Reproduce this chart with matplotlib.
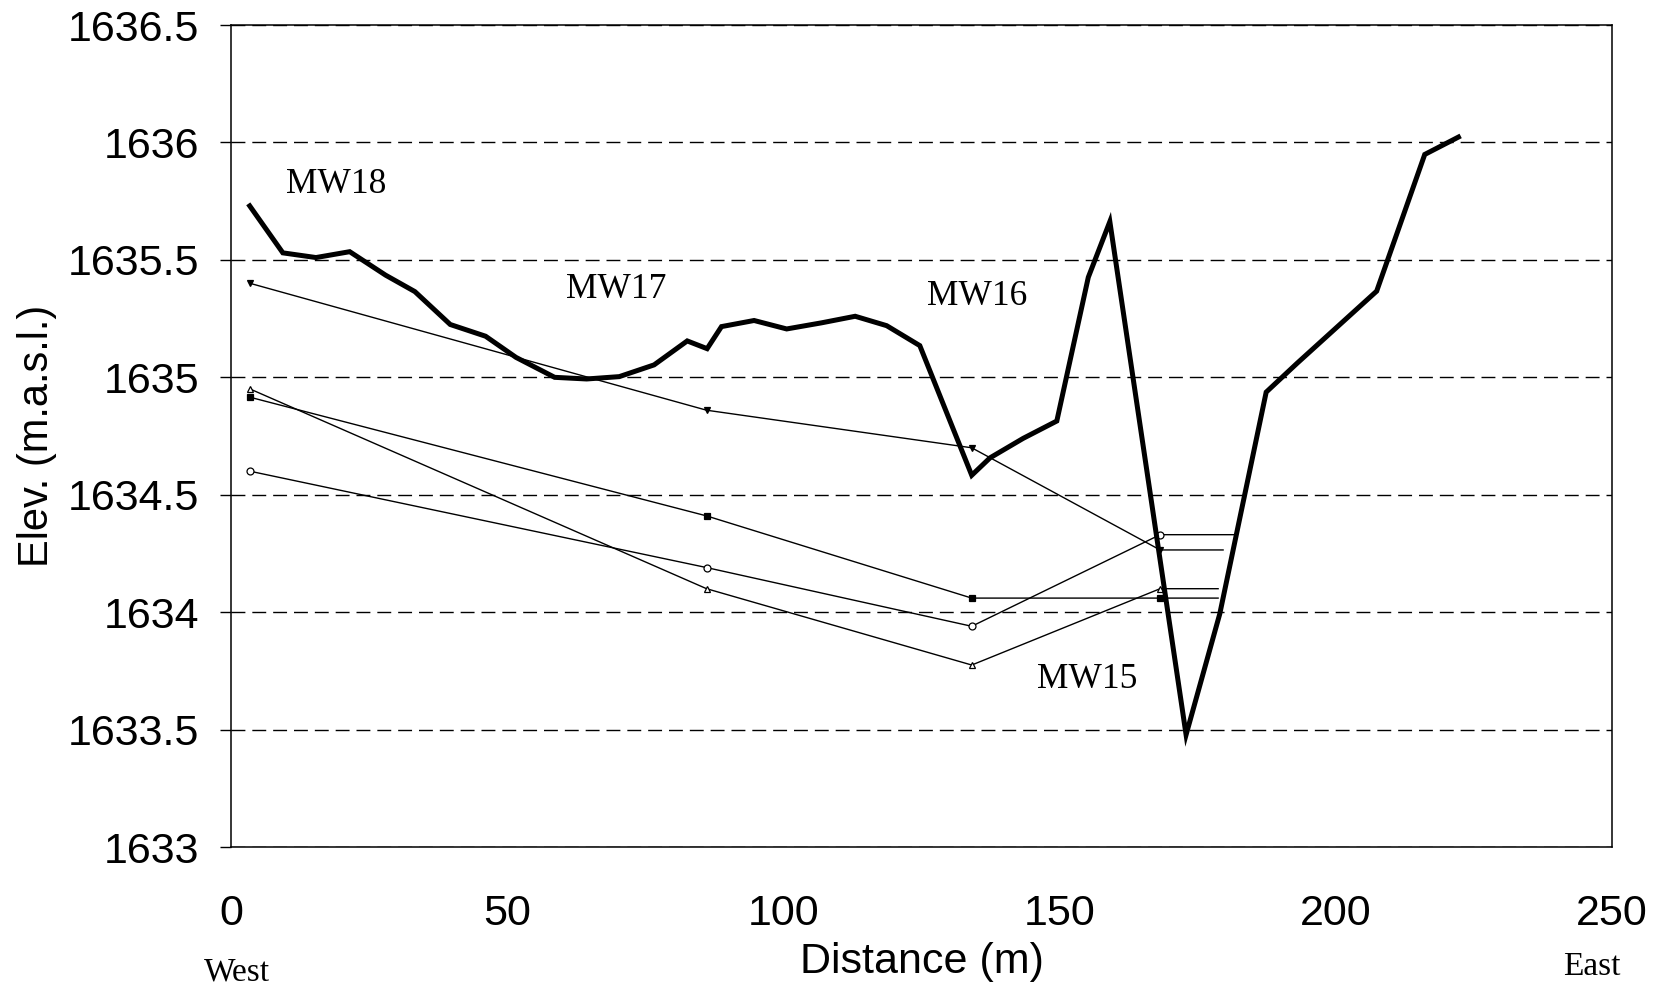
import matplotlib
matplotlib.use('Agg')
import matplotlib.pyplot as plt
from matplotlib.ticker import FuncFormatter

# ground surface profile (thick line), distance in m / elevation in m.a.s.l.
terrainX = [3.4, 9.4, 15.4, 21.5, 28.0, 33.3, 39.7, 46.1, 51.6, 58.6, 64.4, 70.3,
            76.6, 82.6, 86.2, 88.8, 94.7, 100.6, 106.9, 113.0, 118.7, 124.7,
            134.1, 137.4, 143.4, 149.5, 155.2, 159.1, 172.9, 179.0, 187.4, 193.0,
            207.4, 216.1, 222.2]
terrainY = [1635.73, 1635.53, 1635.51, 1635.535, 1635.435, 1635.365, 1635.225,
            1635.175, 1635.085, 1635.0, 1634.993, 1635.003, 1635.053, 1635.155,
            1635.122, 1635.216, 1635.242, 1635.206, 1635.232, 1635.26, 1635.22,
            1635.135, 1634.583, 1634.657, 1634.74, 1634.814, 1635.426, 1635.663,
            1633.478, 1633.993, 1634.937, 1635.06, 1635.367, 1635.949, 1636.023]

# water levels at the wells (thin lines), last point carries the level on
downX = [3.5, 86.1, 134.1, 168.2, 179.6]
downY = [1635.40, 1634.86, 1634.70, 1634.265, 1634.265]
squareX = [3.5, 86.1, 134.1, 168.2, 178.7]
squareY = [1634.915, 1634.41, 1634.06, 1634.06, 1634.06]
circleX = [3.5, 86.1, 134.1, 168.2, 181.8]
circleY = [1634.60, 1634.19, 1633.94, 1634.33, 1634.33]
triX = [3.5, 86.1, 134.1, 168.2, 178.7]
triY = [1634.95, 1634.10, 1633.775, 1634.10, 1634.10]

# well names and where they are written
wellNames = ['MW18', 'MW17', 'MW16', 'MW15']
wellNameX = [19.1, 69.8, 135.0, 155.0]
wellNameY = [1635.82, 1635.372, 1635.344, 1633.714]

yTicks = [1633, 1633.5, 1634, 1634.5, 1635, 1635.5, 1636, 1636.5]
xTicks = [0, 50, 100, 150, 200, 250]

sansFont = 'Liberation Sans'
serifFont = 'Liberation Serif'

fig = plt.figure(figsize=(16.53, 9.9), dpi=100)
ax = fig.add_axes([0.1397, 0.1444, 0.8355, 0.8303])

#dashed horizontal grid
ax.set_yticks(yTicks)
ax.set_xticks(xTicks)
ax.yaxis.grid(True, linestyle=(0, (10, 5)), color='black', linewidth=1.0)
ax.set_axisbelow(True)

#the thin water level lines
marks = [(downX, downY, 'v', 'black'), (squareX, squareY, 's', 'black'),
         (circleX, circleY, 'o', 'white'), (triX, triY, '^', 'white')]
for xs, ys, m, fc in marks:
    ax.plot(xs, ys, color='black', linewidth=1.0, marker=m, markersize=5,
            markerfacecolor=fc, markeredgecolor='black', markeredgewidth=0.9,
            markevery=[0, 1, 2, 3])

#the ground line
ax.plot(terrainX, terrainY, color='black', linewidth=3.6, solid_joinstyle='miter')

for name, nx, ny in zip(wellNames, wellNameX, wellNameY):
    ax.text(nx, ny, name, fontsize=25.5, family=serifFont, ha='center', va='center')

ax.set_xlim(0, 250)
ax.set_ylim(1633, 1636.5)
ax.yaxis.set_major_formatter(FuncFormatter(lambda v, p: '%g' % v))

for side in ['left', 'right', 'top', 'bottom']:
    ax.spines[side].set_linewidth(1.1)

ax.tick_params(axis='y', direction='out', length=8, width=1.0, pad=15, labelsize=31)
ax.tick_params(axis='x', length=0, pad=34, labelsize=31)
for lbl in ax.get_xticklabels() + ax.get_yticklabels():
    lbl.set_family(sansFont)

ax.set_xlabel('Distance (m)', fontsize=31, family=sansFont, va='center')
ax.xaxis.set_label_coords(0.5, -0.140)
ax.set_ylabel('Elev. (m.a.s.l.)', fontsize=30, family=sansFont, va='center')
ax.yaxis.set_label_coords(-0.1405, 0.5)

ax.text(0.004, -0.152, 'West', transform=ax.transAxes, fontsize=24,
        family=serifFont, ha='center', va='center')
ax.text(0.9855, -0.146, 'East', transform=ax.transAxes, fontsize=24,
        family=serifFont, ha='center', va='center')

fig.savefig('out.png', dpi=100, facecolor='white')
